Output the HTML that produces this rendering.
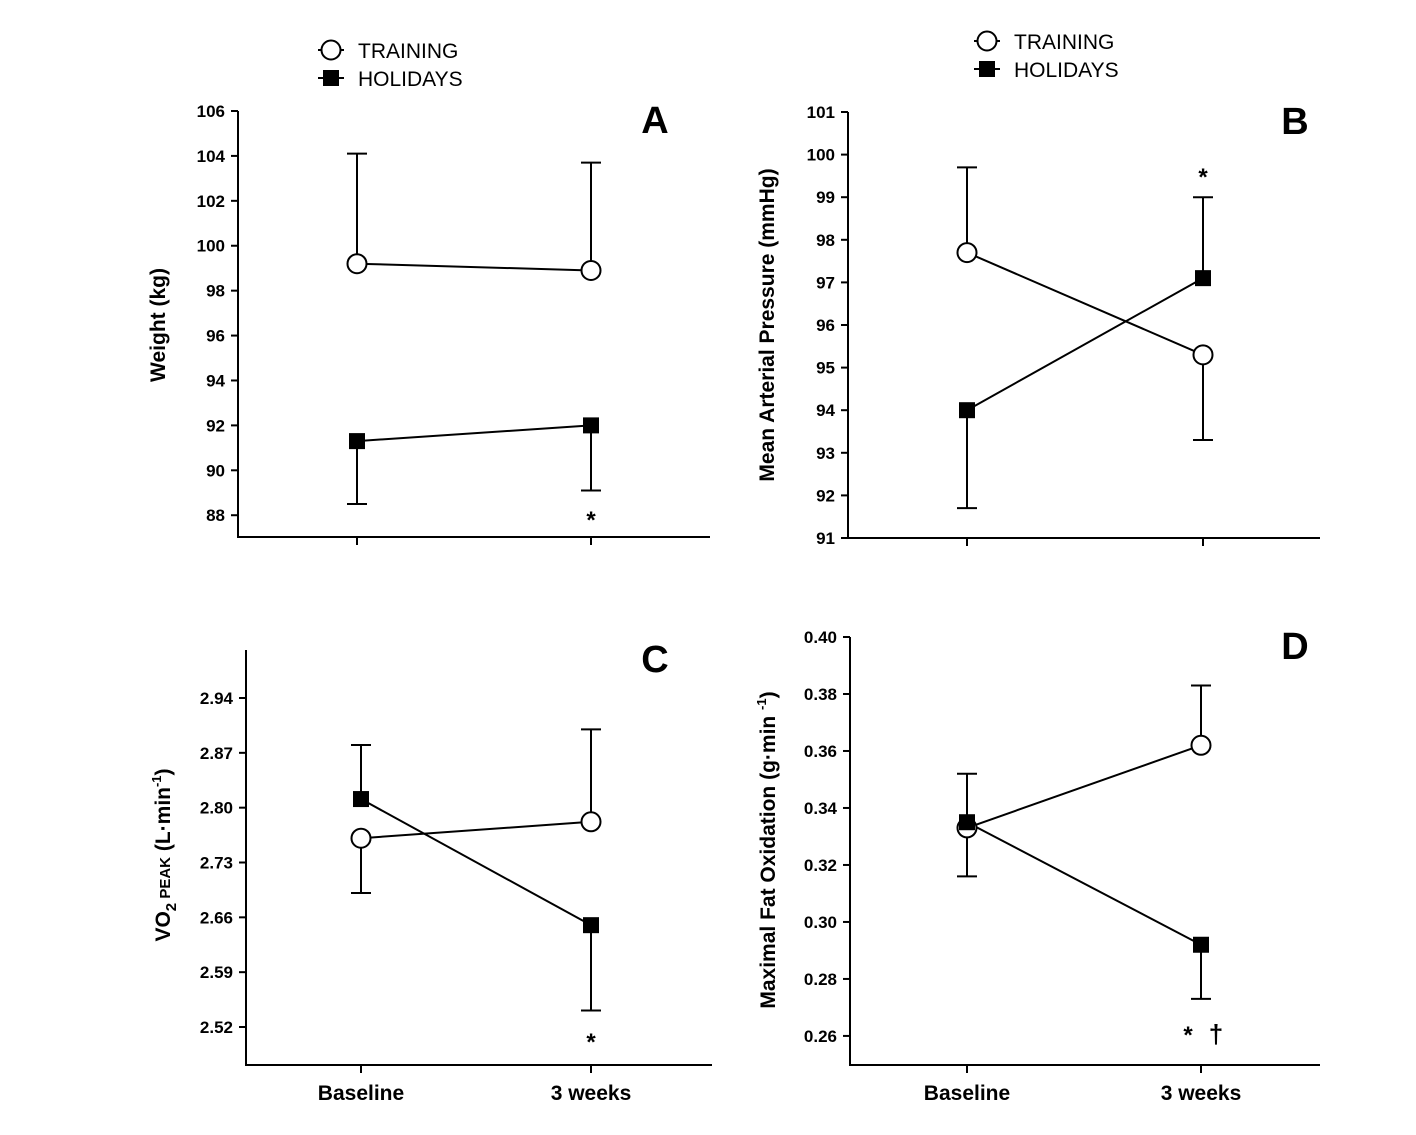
<!DOCTYPE html>
<html><head><meta charset="utf-8"><style>
html,body{margin:0;padding:0;background:#fff;}
svg{display:block;font-family:"Liberation Sans",Arial,sans-serif;}
</style></head><body>
<svg id="fig" width="1416" height="1135" viewBox="0 0 1416 1135" xmlns="http://www.w3.org/2000/svg"></svg>
<script>
const categories = ["Baseline", "3 weeks"];
// Panel A: Weight
const aTicks = [88, 90, 92, 94, 96, 98, 100, 102, 104, 106];
const aTraining = [99.2, 98.9];
const aTrainingErr = [104.1, 103.7];
const aHolidays = [91.3, 92.0];
const aHolidaysErr = [88.5, 89.1];
// Panel B: MAP
const bTicks = [91, 92, 93, 94, 95, 96, 97, 98, 99, 100, 101];
const bTraining = [97.7, 95.3];
const bTrainingErr = [99.7, 93.3];
const bHolidays = [94.0, 97.1];
const bHolidaysErr = [91.7, 99.0];
// Panel C: VO2 peak
const cTicks = ["2.52", "2.59", "2.66", "2.73", "2.80", "2.87", "2.94"];
const cTraining = [2.761, 2.782];
const cTrainingErr = [2.691, 2.90];
const cHolidays = [2.811, 2.650];
const cHolidaysErr = [2.88, 2.541];
// Panel D: Fat oxidation
const dTicks = ["0.26", "0.28", "0.30", "0.32", "0.34", "0.36", "0.38", "0.40"];
const dTraining = [0.333, 0.362];
const dTrainingErr = [0.316, 0.383];
const dHolidays = [0.335, 0.292];
const dHolidaysErr = [0.352, 0.273];

const NS = "http://www.w3.org/2000/svg";
const svg = document.getElementById("fig");
function mk(tag, attrs, parent, text) {
  const e = document.createElementNS(NS, tag);
  for (const k in attrs) e.setAttribute(k, attrs[k]);
  if (text !== undefined) e.textContent = text;
  (parent || svg).appendChild(e);
  return e;
}

function panel(cfg) {
  const g = mk("g", {});
  
  
  const y = v => cfg.y0 - (v - cfg.vmin) / (cfg.vmax - cfg.vmin) * (cfg.y0 - cfg.y1);
  const x = i => cfg.xs[i];
  // axes
  const ax = mk("path", {d:`M${cfg.left},${cfg.top} L${cfg.left},${cfg.y0} L${cfg.right},${cfg.y0}`, fill:"none", stroke:"#000", "stroke-width":2}, g);
  
  
  cfg.ticks.forEach(t => {
    const v = parseFloat(t);
    const yy = y(v);
    mk("line", {x1:cfg.left-7, x2:cfg.left, y1:yy, y2:yy, stroke:"#000", "stroke-width":2}, g);
    const tl = mk("text", {x:cfg.left-13, y:yy+6, "text-anchor":"end", "font-size":17, "font-weight":"bold"}, g, t);
    
    
  });
  categories.forEach((c, i) => {
    mk("line", {x1:x(i), x2:x(i), y1:cfg.y0, y2:cfg.y0+8, stroke:"#000", "stroke-width":2}, g);
    if (cfg.xlabels) {
      const xl = mk("text", {x:x(i), y:cfg.y0+35, "text-anchor":"middle", "font-size":21, "font-weight":"bold"}, g, c);
      
      
    }
  });
  // y title
  const yt = mk("text", {x:0, y:0, transform:`translate(${cfg.ytx},${cfg.yty}) rotate(-90)`, "text-anchor":"middle", "font-size":21, "font-weight":"bold"}, g);
  yt.innerHTML = cfg.ytitle;
  
  
  // letter
  const lt = mk("text", {x:cfg.letterX, y:cfg.top+22, "text-anchor":"middle", "font-size":38, "font-weight":"bold"}, g, cfg.letter);
  
  
  // series
  const series = [[cfg.train, cfg.trainErr, "training"], [cfg.hol, cfg.holErr, "holidays"]];
  series.forEach(([vals, errs, nm]) => {
    const l = mk("polyline", {points: vals.map((v,i)=>`${x(i)},${y(v)}`).join(" "), fill:"none", stroke:"#000", "stroke-width":2}, g);
    
    
  });
  series.forEach(([vals, errs, nm]) => {
    vals.forEach((v,i) => {
      const e = mk("path", {d:`M${x(i)},${y(v)} L${x(i)},${y(errs[i])} M${x(i)-10},${y(errs[i])} L${x(i)+10},${y(errs[i])}`, fill:"none", stroke:"#000", "stroke-width":2}, g);
      
      
    });
  });
  series.forEach(([vals, errs, nm]) => {
    vals.forEach((v,i) => {
      let m;
      if (nm === "training") m = mk("circle", {cx:x(i), cy:y(v), r:9.5, fill:"#fff", stroke:"#000", "stroke-width":2}, g);
      else m = mk("rect", {x:x(i)-8, y:y(v)-8, width:16, height:16, fill:"#000"}, g);
      
      
    });
  });
  cfg.marks.forEach(mm => {
    const t = mk("text", {x:mm[0], y:mm[1], "text-anchor":"middle", "font-size":mm[3]||24, "font-weight":"bold"}, g, mm[2]);
    
    
  });
}

panel({name:"panel-a", left:238, right:710, top:111, y0:537, y1:111, vmin:87.03, vmax:106, xs:[357,591],
  ticks:aTicks.map(String), ytitle:"Weight (kg)", ytx:165, yty:325, letter:"A", letterX:655,
  train:aTraining, trainErr:aTrainingErr, hol:aHolidays, holErr:aHolidaysErr, marks:[[591,528,"*"]], xlabels:false});
panel({name:"panel-b", left:848, right:1320, top:112, y0:538, y1:112, vmin:91, vmax:101, xs:[967,1203],
  ticks:bTicks.map(String), ytitle:"Mean Arterial Pressure (mmHg)", ytx:774, yty:325, letter:"B", letterX:1295,
  train:bTraining, trainErr:bTrainingErr, hol:bHolidays, holErr:bHolidaysErr, marks:[[1203,185,"*"]], xlabels:false});
panel({name:"panel-c", left:246, right:712, top:650, y0:1065, y1:698, vmin:2.4715, vmax:2.94, xs:[361,591],
  ticks:cTicks, ytitle:'VO<tspan dy="6" font-size="15">2</tspan><tspan dy="-6" font-size="15"> PEAK</tspan> (L·min<tspan dy="-9" font-size="13">-1</tspan><tspan dy="9">)</tspan>', ytx:170, yty:855, letter:"C", letterX:655,
  train:cTraining, trainErr:cTrainingErr, hol:cHolidays, holErr:cHolidaysErr, marks:[[591,1050,"*"]], xlabels:true});
panel({name:"panel-d", left:850, right:1320, top:637, y0:1065, y1:637, vmin:0.2498, vmax:0.40, xs:[967,1201],
  ticks:dTicks, ytitle:'Maximal Fat Oxidation (g·min <tspan dy="-9" font-size="13">-1</tspan><tspan dy="9">)</tspan>', ytx:775, yty:850, letter:"D", letterX:1295,
  train:dTraining, trainErr:dTrainingErr, hol:dHolidays, holErr:dHolidaysErr, marks:[[1188,1043,"*"],[1216,1043,"†",26]], xlabels:true});

// legends
function legend(cx, y1, y2, tx, name) {
  const g = mk("g", {});
  
  
  mk("line", {x1:cx-13, x2:cx+13, y1:y1, y2:y1, stroke:"#000", "stroke-width":2}, g);
  mk("circle", {cx:cx, cy:y1, r:9.5, fill:"#fff", stroke:"#000", "stroke-width":2}, g);
  const t1 = mk("text", {x:tx, y:y1+8, "font-size":21}, g, "TRAINING");
  
  
  mk("line", {x1:cx-13, x2:cx+13, y1:y2, y2:y2, stroke:"#000", "stroke-width":2}, g);
  mk("rect", {x:cx-8, y:y2-8, width:16, height:16, fill:"#000"}, g);
  const t2 = mk("text", {x:tx, y:y2+8, "font-size":21}, g, "HOLIDAYS");
  
  
}
legend(331, 50, 78, 358, "legend-a");
legend(987, 41, 69, 1014, "legend-b");
</script>
</body></html>
